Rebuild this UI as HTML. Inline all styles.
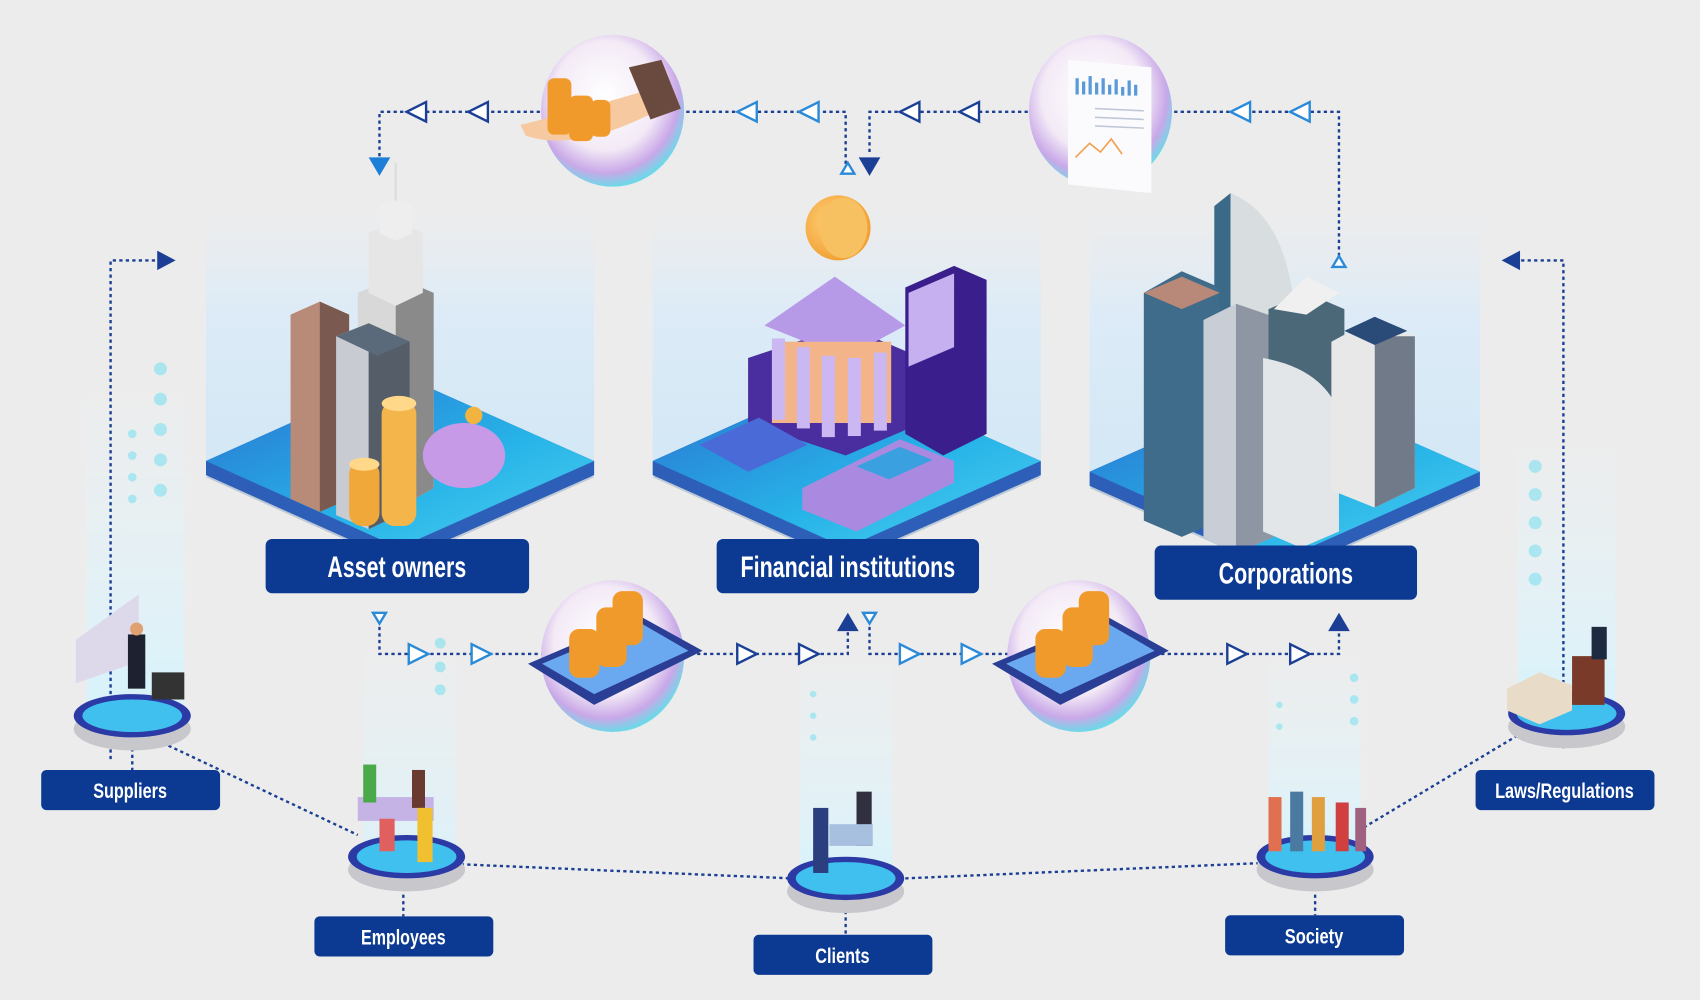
<!DOCTYPE html>
<html><head><meta charset="utf-8"><style>
html,body{margin:0;padding:0;background:#ececec;}
svg{display:block}
text{font-family:"Liberation Sans Narrow","Liberation Sans",sans-serif;font-weight:bold;fill:#fff;}
</style></head><body>
<svg width="1700" height="1000" viewBox="0 0 1568 922" xmlns="http://www.w3.org/2000/svg">
<defs>
<linearGradient id="glow" x1="0" y1="0" x2="0" y2="1">
<stop offset="0" stop-color="#e4eef6" stop-opacity="0"/><stop offset="0.4" stop-color="#dcebf7"/><stop offset="1" stop-color="#d3e7f6"/></linearGradient>
<linearGradient id="plat" x1="0" y1="0" x2="1" y2="1">
<stop offset="0" stop-color="#2a6fd0"/><stop offset="0.6" stop-color="#27b4e8"/><stop offset="1" stop-color="#4fd0f0"/></linearGradient>
<radialGradient id="bub" cx="0.45" cy="0.4" r="0.6">
<stop offset="0" stop-color="#fff"/><stop offset="0.6" stop-color="#f3eaf6"/><stop offset="0.85" stop-color="#c9a8e8"/><stop offset="1" stop-color="#6fd8e8"/></radialGradient>
<linearGradient id="col" x1="0" y1="0" x2="0" y2="1"><stop offset="0" stop-color="#e8f7fc" stop-opacity="0"/><stop offset="1" stop-color="#d8f2fb"/></linearGradient>
<radialGradient id="coin" cx="0.4" cy="0.4" r="0.7"><stop offset="0" stop-color="#ffd27a"/><stop offset="1" stop-color="#f0992a"/></radialGradient>
</defs>
<rect width="1568" height="922" fill="#ececec"/>

<!-- glow panels -->
<rect x="190" y="190" width="358" height="250" fill="url(#glow)"/>
<rect x="602" y="190" width="358" height="250" fill="url(#glow)"/>
<rect x="1005" y="190" width="360" height="260" fill="url(#glow)"/>
<!-- side columns -->
<rect x="80" y="350" width="90" height="300" fill="url(#col)"/>
<rect x="335" y="590" width="85" height="200" fill="url(#col)" opacity="0.8"/>
<rect x="738" y="600" width="85" height="210" fill="url(#col)"/>
<rect x="1170" y="600" width="85" height="190" fill="url(#col)"/>
<rect x="1400" y="400" width="90" height="250" fill="url(#col)"/>
<g fill="#8fe3f0" opacity="0.7">
<circle cx="148" cy="340" r="6"/><circle cx="148" cy="368" r="6"/><circle cx="148" cy="396" r="6"/><circle cx="148" cy="424" r="6"/><circle cx="148" cy="452" r="6"/>
<circle cx="122" cy="400" r="4"/><circle cx="122" cy="420" r="4"/><circle cx="122" cy="440" r="4"/><circle cx="122" cy="460" r="4"/>
<circle cx="1416" cy="430" r="6"/><circle cx="1416" cy="456" r="6"/><circle cx="1416" cy="482" r="6"/><circle cx="1416" cy="508" r="6"/><circle cx="1416" cy="534" r="6"/>
<circle cx="406" cy="593" r="5"/><circle cx="406" cy="615" r="5"/><circle cx="406" cy="636" r="5"/>
<circle cx="750" cy="640" r="3"/><circle cx="750" cy="660" r="3"/><circle cx="750" cy="680" r="3"/>
<circle cx="1249" cy="625" r="4"/><circle cx="1249" cy="645" r="4"/><circle cx="1249" cy="665" r="4"/><circle cx="1180" cy="650" r="3"/><circle cx="1180" cy="670" r="3"/>
</g>

<!-- dotted connectors -->
<g fill="none" stroke="#1a3f94" stroke-width="2.2" stroke-dasharray="3 3">
<path d="M350 150 V103 H780 V152"/>
<path d="M802 140 V103 H1235 V240"/>
<path d="M350 572 V603 H782 V580"/>
<path d="M802 572 V603 H1235 V580"/>
<path d="M102 700 V240 H150"/>
<path d="M1442 690 V240 H1395"/>
<path d="M150 685 L330 770"/>
<path d="M425 797 L730 810"/>
<path d="M835 810 L1160 796"/>
<path d="M1258 763 L1400 678"/>
<path d="M122 690 V710 M372 825 V845 M780 840 V862 M1213 825 V844"/>
</g>
<!-- open arrowheads -->
<g fill="#fff" stroke-width="2.2">
<g stroke="#1a3f94"><path d="M375 103 L393 94 V112 Z"/><path d="M432 103 L450 94 V112 Z"/><path d="M830 103 L848 94 V112 Z"/><path d="M885 103 L903 94 V112 Z"/></g>
<g stroke="#2a8ad8"><path d="M680 103 L698 94 V112 Z"/><path d="M737 103 L755 94 V112 Z"/><path d="M1135 103 L1153 94 V112 Z"/><path d="M1190 103 L1208 94 V112 Z"/>
<path d="M395 603 L377 594 V612 Z"/><path d="M453 603 L435 594 V612 Z"/><path d="M848 603 L830 594 V612 Z"/><path d="M905 603 L887 594 V612 Z"/>
<path d="M344 565 H356 L350 575 Z"/><path d="M796 565 H808 L802 575 Z"/><path d="M1229 246 H1241 L1235 236 Z"/><path d="M776 160 H788 L782 150 Z"/></g>
<g stroke="#1a3f94"><path d="M698 603 L680 594 V612 Z"/><path d="M755 603 L737 594 V612 Z"/><path d="M1150 603 L1132 594 V612 Z"/><path d="M1208 603 L1190 594 V612 Z"/></g>
</g>
<g fill="#1a3f94">
<path d="M340 145 H360 L350 162 Z" fill="#1e7fd8"/>
<path d="M792 145 H812 L802 162 Z"/>
<path d="M772 582 H792 L782 565 Z"/><path d="M1225 582 H1245 L1235 565 Z"/>
<path d="M145 231 V249 L162 240 Z"/><path d="M1402 231 V249 L1385 240 Z"/>
</g>

<!-- platforms -->
<g>
<path d="M190 440 L368 360 L548 440 L368 520 Z" fill="#9fb3c8" opacity="0.6"/>
<path d="M190 425 L368 345 L548 425 L548 438 L368 518 L190 438 Z" fill="#2e5fb8"/>
<path d="M190 425 L368 345 L548 425 L368 505 Z" fill="url(#plat)"/>
<path d="M602 440 L780 360 L960 440 L780 520 Z" fill="#9fb3c8" opacity="0.6"/>
<path d="M602 425 L780 345 L960 425 L960 438 L780 518 L602 438 Z" fill="#2e5fb8"/>
<path d="M602 425 L780 345 L960 425 L780 505 Z" fill="url(#plat)"/>
<path d="M1005 450 L1185 370 L1365 450 L1185 530 Z" fill="#9fb3c8" opacity="0.6"/>
<path d="M1005 435 L1185 355 L1365 435 L1365 448 L1185 528 L1005 448 Z" fill="#2e5fb8"/>
<path d="M1005 435 L1185 355 L1365 435 L1185 515 Z" fill="url(#plat)"/>
</g>

<!-- Asset owners buildings -->
<g>
<path d="M330 270 L365 255 L400 270 V450 L365 470 L330 455 Z" fill="#d8d8d8"/>
<path d="M365 255 L400 270 V450 L365 470 Z" fill="#8a8a8a"/>
<path d="M340 215 L365 203 L390 215 V270 L365 282 L340 270 Z" fill="#e6e6e6"/>
<path d="M350 190 L365 183 L380 190 V215 L365 222 L350 215 Z" fill="#eee"/>
<line x1="365" y1="150" x2="365" y2="185" stroke="#ddd" stroke-width="2"/>
<path d="M268 290 L295 278 L322 290 V460 L295 472 L268 460 Z" fill="#b88a78"/>
<path d="M295 278 L322 290 V460 L295 472 Z" fill="#7a5a50"/>
<path d="M310 310 L340 298 L378 315 V470 L340 488 L310 475 Z" fill="#c8ccd2"/>
<path d="M340 298 L378 315 V470 L340 488 Z" fill="#555e68"/>
<path d="M310 310 L340 298 L378 315 L348 328 Z" fill="#5a6a7a"/>
<rect x="322" y="425" width="28" height="60" rx="12" fill="#f0a83a"/>
<rect x="352" y="370" width="32" height="115" rx="12" fill="#f4b54a"/>
<ellipse cx="368" cy="372" rx="16" ry="7" fill="#ffd88a"/><ellipse cx="336" cy="428" rx="14" ry="6" fill="#ffd88a"/>
<ellipse cx="428" cy="420" rx="38" ry="30" fill="#c79ae8"/>
<circle cx="437" cy="383" r="8" fill="#f2b440"/>
</g>

<!-- Financial -->
<g>
<circle cx="773" cy="210" r="30" fill="url(#coin)"/>
<ellipse cx="778" cy="210" rx="22" ry="28" fill="#f7c060"/>
<path d="M690 330 L780 300 L850 330 V390 L780 420 L690 390 Z" fill="#4a2ea0"/>
<path d="M705 300 L770 255 L835 300 L780 330 Z" fill="#b69ae8"/>
<rect x="712" y="315" width="110" height="75" fill="#f4b48a"/>
<g fill="#cbb8f2"><rect x="712" y="312" width="12" height="75"/><rect x="735" y="320" width="12" height="75"/><rect x="758" y="328" width="12" height="75"/><rect x="782" y="330" width="12" height="72"/><rect x="806" y="325" width="12" height="72"/></g>
<path d="M835 265 L880 245 L910 258 V400 L870 420 L835 400 Z" fill="#3a1f8c"/>
<path d="M838 270 L880 252 V320 L838 338 Z" fill="#c6b0f0"/>
<path d="M645 410 L700 385 L745 410 L690 435 Z" fill="#4a6ad8"/>
<path d="M740 450 L830 405 L880 425 V445 L790 490 L740 470 Z" fill="#a98ae0"/>
<path d="M790 430 L830 412 L860 424 L820 442 Z" fill="#3aa0e0"/>
</g>

<!-- Corporations -->
<g>
<path d="M1120 190 L1135 178 V300 L1120 310 Z" fill="#3a6a88"/>
<path d="M1135 178 Q1190 200 1195 300 L1135 300 Z" fill="#d8dde0"/>
<path d="M1055 270 L1090 250 L1125 265 V480 L1090 495 L1055 480 Z" fill="#3e6c8a"/>
<path d="M1055 270 L1090 255 L1125 270 L1090 285 Z" fill="#b88878"/>
<path d="M1110 295 L1140 280 L1175 292 V495 L1140 510 L1110 495 Z" fill="#c9ced6"/>
<path d="M1140 280 L1175 292 V495 L1140 510 Z" fill="#8e96a4"/>
<path d="M1170 285 L1205 270 L1240 285 V440 L1205 455 L1170 440 Z" fill="#4a6878"/>
<path d="M1175 285 L1205 255 L1235 270 L1205 290 Z" fill="#f0f0f0"/>
<path d="M1165 330 Q1220 340 1235 380 V490 L1200 505 L1165 490 Z" fill="#e2e6e8"/>
<path d="M1228 315 L1265 295 L1305 310 V450 L1268 468 L1228 452 Z" fill="#e8e8e8"/>
<path d="M1268 310 L1305 310 V450 L1268 468 Z" fill="#707a88"/>
<path d="M1240 305 L1268 292 L1298 305 L1268 318 Z" fill="#2a4a78"/>
</g>

<!-- bubbles -->
<g>
<ellipse cx="565" cy="102" rx="66" ry="70" fill="url(#bub)"/>
<path d="M485 125 Q530 140 600 105 L590 85 Q540 100 480 115 Z" fill="#f6c9a0"/>
<path d="M580 62 L610 55 L628 100 L600 110 Z" fill="#6a4a3e"/>
<g fill="#f19a2c"><rect x="505" y="72" width="22" height="52" rx="6"/><rect x="525" y="88" width="22" height="42" rx="6"/><rect x="545" y="92" width="18" height="34" rx="6"/></g>
<ellipse cx="1015" cy="102" rx="66" ry="70" fill="url(#bub)"/>
<path d="M985 55 L1062 62 L1062 178 L985 170 Z" fill="#fbfbfd"/>
<g fill="#5a9ad8"><rect x="992" y="72" width="3" height="15"/><rect x="998" y="75" width="3" height="12"/><rect x="1004" y="70" width="3" height="17"/><rect x="1010" y="76" width="3" height="11"/><rect x="1016" y="72" width="3" height="15"/><rect x="1022" y="78" width="3" height="9"/><rect x="1028" y="73" width="3" height="14"/><rect x="1034" y="80" width="3" height="8"/><rect x="1040" y="74" width="3" height="14"/><rect x="1046" y="78" width="3" height="10"/></g>
<g stroke="#c0c8d8" stroke-width="1.5"><line x1="1010" y1="100" x2="1055" y2="102"/><line x1="1010" y1="108" x2="1055" y2="110"/><line x1="1010" y1="116" x2="1055" y2="118"/></g>
<polyline points="992,145 1005,132 1015,140 1025,128 1035,142" fill="none" stroke="#f0a050" stroke-width="1.5"/>
<ellipse cx="565" cy="605" rx="66" ry="70" fill="url(#bub)"/>
<path d="M487 612 L590 568 L648 600 L548 650 Z" fill="#2a3e96"/>
<path d="M500 612 L590 574 L635 600 L548 640 Z" fill="#6aa8f0"/>
<g fill="#f19a2c"><rect x="525" y="580" width="28" height="45" rx="9"/><rect x="550" y="560" width="28" height="55" rx="9"/><rect x="565" y="545" width="28" height="50" rx="9"/></g>
<ellipse cx="995" cy="605" rx="66" ry="70" fill="url(#bub)"/>
<path d="M915 612 L1020 568 L1078 600 L978 650 Z" fill="#2a3e96"/>
<path d="M928 612 L1020 574 L1065 600 L978 640 Z" fill="#6aa8f0"/>
<g fill="#f19a2c"><rect x="955" y="580" width="28" height="45" rx="9"/><rect x="980" y="560" width="28" height="55" rx="9"/><rect x="995" y="545" width="28" height="50" rx="9"/></g>
</g>

<!-- small round platforms -->
<g>
<g transform="translate(122,660)"><ellipse cx="0" cy="12" rx="54" ry="20" fill="#c8c8cc"/><ellipse cx="0" cy="0" rx="54" ry="20" fill="#2c3aa6"/><ellipse cx="0" cy="0" rx="46" ry="15" fill="#3fc0ee"/></g>
<g transform="translate(375,790)"><ellipse cx="0" cy="12" rx="54" ry="20" fill="#c8c8cc"/><ellipse cx="0" cy="0" rx="54" ry="20" fill="#2c3aa6"/><ellipse cx="0" cy="0" rx="46" ry="15" fill="#3fc0ee"/></g>
<g transform="translate(780,810)"><ellipse cx="0" cy="12" rx="54" ry="20" fill="#c8c8cc"/><ellipse cx="0" cy="0" rx="54" ry="20" fill="#2c3aa6"/><ellipse cx="0" cy="0" rx="46" ry="15" fill="#3fc0ee"/></g>
<g transform="translate(1213,790)"><ellipse cx="0" cy="12" rx="54" ry="20" fill="#c8c8cc"/><ellipse cx="0" cy="0" rx="54" ry="20" fill="#2c3aa6"/><ellipse cx="0" cy="0" rx="46" ry="15" fill="#3fc0ee"/></g>
<g transform="translate(1445,658)"><ellipse cx="0" cy="12" rx="54" ry="20" fill="#c8c8cc"/><ellipse cx="0" cy="0" rx="54" ry="20" fill="#2c3aa6"/><ellipse cx="0" cy="0" rx="46" ry="15" fill="#3fc0ee"/></g>
</g>
<!-- people / items (simplified) -->
<g>
<path d="M70 590 L128 548 V610 L70 630 Z" fill="#ddd8ea"/>
<rect x="118" y="585" width="16" height="50" fill="#1e2230"/><circle cx="126" cy="580" r="6" fill="#e0a070"/>
<rect x="140" y="620" width="30" height="25" fill="#333"/>
<g fill="#c5b3e6"><rect x="330" y="735" width="70" height="22"/></g>
<rect x="335" y="705" width="12" height="35" fill="#4aaa4a"/><rect x="380" y="710" width="12" height="35" fill="#6a3a30"/>
<rect x="385" y="745" width="14" height="50" fill="#f0c030"/><rect x="350" y="755" width="14" height="30" fill="#e06060"/>
<rect x="750" y="745" width="14" height="60" fill="#2a3e80"/><rect x="790" y="730" width="14" height="50" fill="#303040"/>
<rect x="765" y="760" width="40" height="20" fill="#a8c0e0"/>
<g fill="#e07050"><rect x="1170" y="735" width="12" height="50"/></g>
<rect x="1190" y="730" width="12" height="55" fill="#4a7aa0"/><rect x="1210" y="735" width="12" height="50" fill="#e0a040"/><rect x="1232" y="740" width="12" height="45" fill="#d04040"/><rect x="1250" y="745" width="10" height="40" fill="#a06080"/>
<path d="M1390 635 L1420 620 L1450 632 V655 L1420 668 L1390 655 Z" fill="#e8dcc8"/>
<rect x="1450" y="605" width="30" height="45" fill="#7a3a2a"/><rect x="1468" y="578" width="14" height="30" fill="#1e2a40"/>
</g>

<!-- labels -->
<g fill="#0c3a92">
<rect x="245" y="497" width="243" height="50" rx="6"/>
<rect x="661" y="497" width="242" height="50" rx="6"/>
<rect x="1065" y="503" width="242" height="50" rx="6"/>
<rect x="38" y="710" width="165" height="37" rx="5"/>
<rect x="290" y="845" width="165" height="37" rx="5"/>
<rect x="695" y="862" width="165" height="37" rx="5"/>
<rect x="1130" y="844" width="165" height="37" rx="5"/>
<rect x="1361" y="710" width="165" height="37" rx="5"/>
</g>
<g text-anchor="middle">
<text x="366" y="532" font-size="27" textLength="128" lengthAdjust="spacingAndGlyphs">Asset owners</text>
<text x="782" y="532" font-size="27" textLength="198" lengthAdjust="spacingAndGlyphs">Financial institutions</text>
<text x="1186" y="538" font-size="27" textLength="124" lengthAdjust="spacingAndGlyphs">Corporations</text>
<text x="120" y="736" font-size="20" textLength="68" lengthAdjust="spacingAndGlyphs">Suppliers</text>
<text x="372" y="871" font-size="20" textLength="78" lengthAdjust="spacingAndGlyphs">Employees</text>
<text x="777" y="888" font-size="20" textLength="50" lengthAdjust="spacingAndGlyphs">Clients</text>
<text x="1212" y="870" font-size="20" textLength="54" lengthAdjust="spacingAndGlyphs">Society</text>
<text x="1443" y="736" font-size="20" textLength="128" lengthAdjust="spacingAndGlyphs">Laws/Regulations</text>
</g>
</svg>
</body></html>
